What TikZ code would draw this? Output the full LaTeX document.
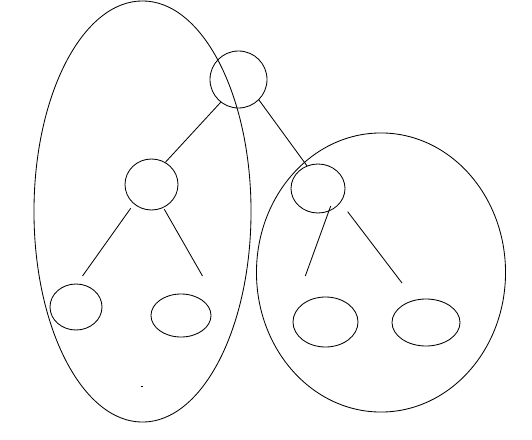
\documentclass[tikz,border=0pt]{standalone}
\usetikzlibrary{shapes.geometric,calc}
\begin{document}
\begin{tikzpicture}[x=0.025cm, y=-0.025cm, line width=0.6pt,
   vertex/.style={draw, ellipse, inner sep=0pt},
   cluster/.style={draw, ellipse, inner sep=0pt}]
  \useasboundingbox (0,0) rectangle (532,440);
  % the two groups
  \node[cluster, minimum width=5.425cm, minimum height=10.525cm] (lgroup) at (142.5,211.5) {};
  \node[cluster, minimum width=6.225cm, minimum height=6.975cm]  (rgroup) at (381,272.5) {};
  % tree
  \node[vertex, minimum width=1.425cm, minimum height=1.425cm] (root) at (238.5,79.5) {};
  \node[vertex, minimum width=1.325cm, minimum height=1.275cm] (lkid) at (151.5,184.5) {};
  \node[vertex, minimum width=1.35cm,  minimum height=1.225cm] (rkid) at (318,188.5) {};
  \node[vertex, minimum width=1.3cm,   minimum height=1.15cm]  (ll) at (76,307) {};
  \node[vertex, minimum width=1.5cm,   minimum height=1.075cm] (lr) at (181,315.5) {};
  \node[vertex, minimum width=1.625cm, minimum height=1.25cm]  (rl) at (325.5,322) {};
  \node[vertex, minimum width=1.7cm,   minimum height=1.175cm] (rr) at (426,322.5) {};
  \coordinate (llend) at (82.5,276);
  \coordinate (lrend) at (202.5,276);
  \coordinate (rlend) at (305.3,276);
  \coordinate (rrend) at (402,283);
  \draw (root.232) -- (lkid.58);
  \draw (root.315) -- (rkid.116);
  \draw ($(lkid.center)+(-20.8,23.8)$) -- (llend);
  \draw ($(lkid.center)+(12.8,24.8)$) -- (lrend);
  \draw ($(rkid.center)+(12.7,17.5)$) -- (rlend);
  \draw ($(rkid.center)+(29.7,23.2)$) -- (rrend);
  \coordinate (speck) at (141,385.5);
  \fill (speck) rectangle ++(2,1.2);
\end{tikzpicture}
\end{document}
